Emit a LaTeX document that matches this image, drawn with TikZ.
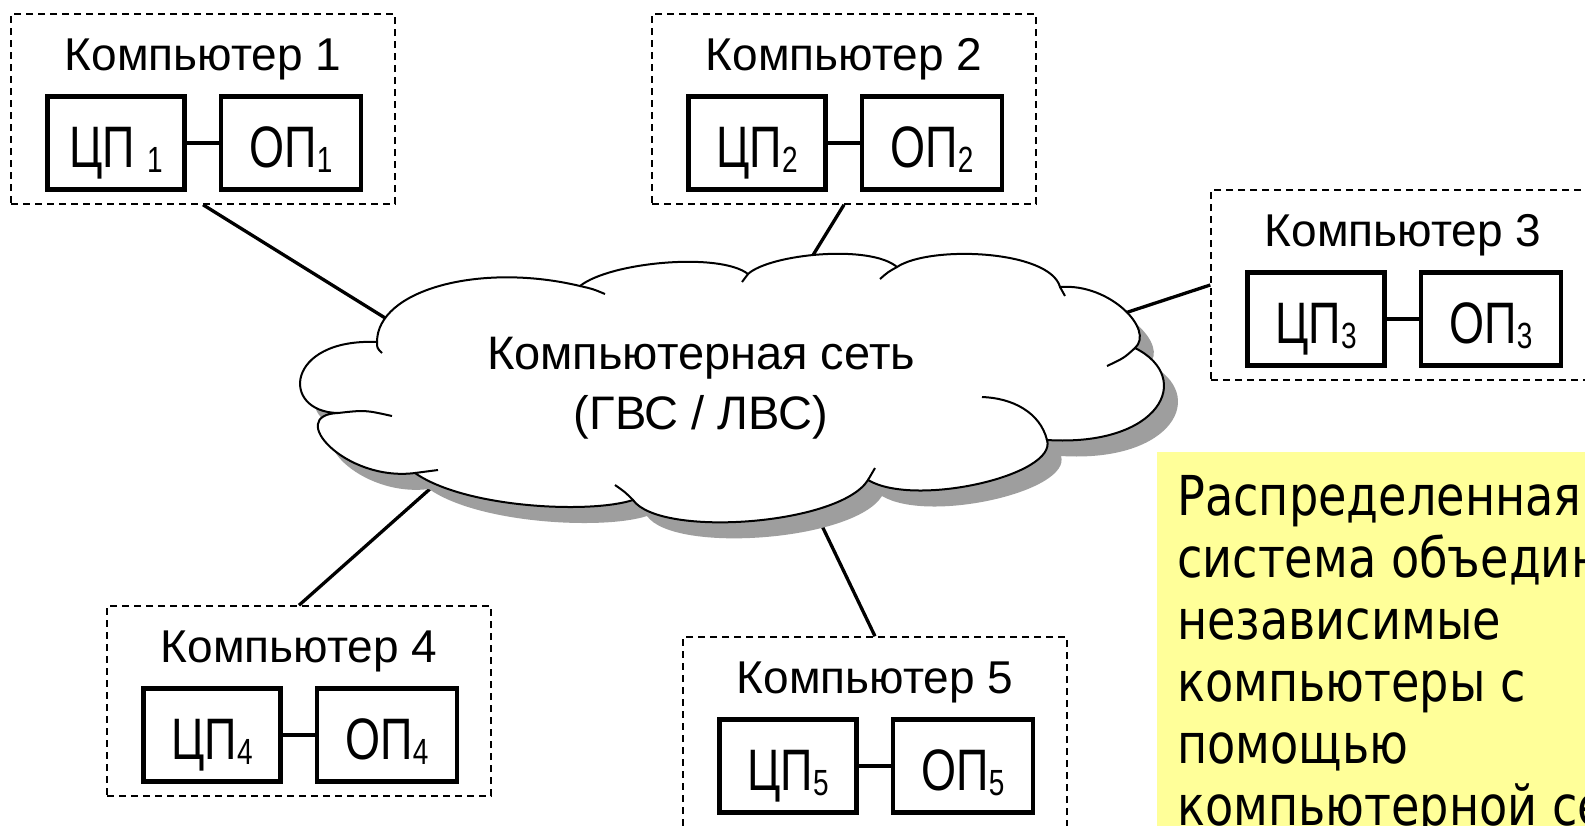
\documentclass[tikz,border=0pt]{standalone}
\usepackage{fontspec}
\setmainfont{Liberation Sans}
\newfontfamily\notefont[FakeStretch=0.84]{DejaVu Sans}
\usepackage{graphicx}
\definecolor{shadowgray}{RGB}{158,158,158}
\definecolor{noteyellow}{RGB}{255,255,153}
\tikzset{
  compframe/.style={draw, dash pattern=on 7pt off 5pt, line width=1.5pt, minimum width=384pt, minimum height=190pt, inner sep=0pt},
  unitbox/.style={draw, line width=4.6pt, minimum height=93pt, inner sep=0pt, text height=48pt, text depth=0pt},
  cpbox/.style={unitbox, minimum width=137pt},
  opbox/.style={unitbox, minimum width=140pt},
  comptitle/.style={anchor=base, inner sep=0pt, font=\fontsize{46}{46}\selectfont},
  link/.style={line width=3.3pt},
  bus/.style={line width=4.6pt},
  cloudline/.style={line width=2pt},
}
\newcommand\unitlabel[2]{\scalebox{1}[1.3]{\fontsize{45}{45}\selectfont #1\raisebox{-4pt}{\fontsize{28}{28}\selectfont #2}}}
\newcommand\computer[5]{%
  \node[compframe] (k#1) at (#2+192,#3+95) {};
  \node[comptitle] (t#1) at (#2+192,#3+56) {Компьютер #4};
  \node[cpbox] (cp#1) at (#2+105,#3+129) {\unitlabel{ЦП}{#5#4}};
  \node[opbox] (op#1) at (#2+280,#3+129) {\unitlabel{ОП}{#4}};
  \draw[bus] (cp#1) -- (op#1);
}
\def\cloudoutline{(377,342) .. controls (377,290) and (480,262) .. (580,286)
 .. controls (610,262) and (720,252) .. (748,274)
 .. controls (770,254) and (870,244) .. (897,267)
 .. controls (930,245) and (1050,250) .. (1060,287)
 .. controls (1110,283) and (1155,330) .. (1135,348)
 .. controls (1195,378) and (1160,447) .. (1047,440)
 .. controls (1058,475) and (915,508) .. (868,480)
 .. controls (840,525) and (660,538) .. (633,500)
 .. controls (590,514) and (465,508) .. (415,473)
 .. controls (345,482) and (285,415) .. (338,413)
 .. controls (280,412) and (285,338) .. (377,342) -- cycle}
\begin{document}
\begin{tikzpicture}[x=1pt,y=-1pt]
\useasboundingbox (0,0) rectangle (1585,825);
\fill[white] (0,0) rectangle (1585,825);
% computers
\computer{1}{11}{14}{1}{\hspace{12pt}}
\computer{2}{652}{14}{2}{}
\computer{3}{1211}{190}{3}{}
\computer{4}{107}{606}{4}{}
\computer{5}{683}{637}{5}{}
% connector ends inside the cloud
\coordinate (e1) at (390,321);
\coordinate (e2) at (810,260);
\coordinate (e3) at (1125,313);
\coordinate (e4) at (440,480);
\coordinate (e5) at (812,505);
\draw[link] (k1.south) -- (e1);
\draw[link] (k2.south) -- (e2);
\draw[link] (k3.west) -- (e3);
\draw[link] (k4.north) -- (e4);
\draw[link] (k5.north) -- (e5);
% cloud
\fill[shadowgray, shift={(14,16)}] \cloudoutline;
\filldraw[fill=white, draw=black, cloudline] \cloudoutline;
\draw[cloudline] (377,342) .. controls (377,348) .. (382,353)
 (580,286) .. controls (593,289) .. (605,294)
 (748,274) -- (742,282)
 (897,267) .. controls (888,272) .. (880,279)
 (1060,287) -- (1065,296)
 (1135,348) .. controls (1124,358) .. (1107,366)
 (1047,440) .. controls (1040,412) and (1012,398) .. (982,397)
 (868,480) -- (875,468)
 (633,500) .. controls (625,492) .. (615,485)
 (415,473) -- (438,470)
 (338,413) .. controls (365,410) .. (392,416);
\node[anchor=north, inner sep=0pt, align=center, font=\fontsize{47}{60}\selectfont] (net) at (701,337) {Компьютерная сеть\\(ГВС / ЛВС)};
% note
\fill[noteyellow] (1157,452) rectangle (1600,830);
\node[anchor=north west, inner sep=0pt, align=left, font=\notefont\fontsize{55}{62}\selectfont] (note) at (1177,475) {Распределенная\\система объединяет\\независимые\\компьютеры с\\помощью\\компьютерной сети};
\end{tikzpicture}
\end{document}
